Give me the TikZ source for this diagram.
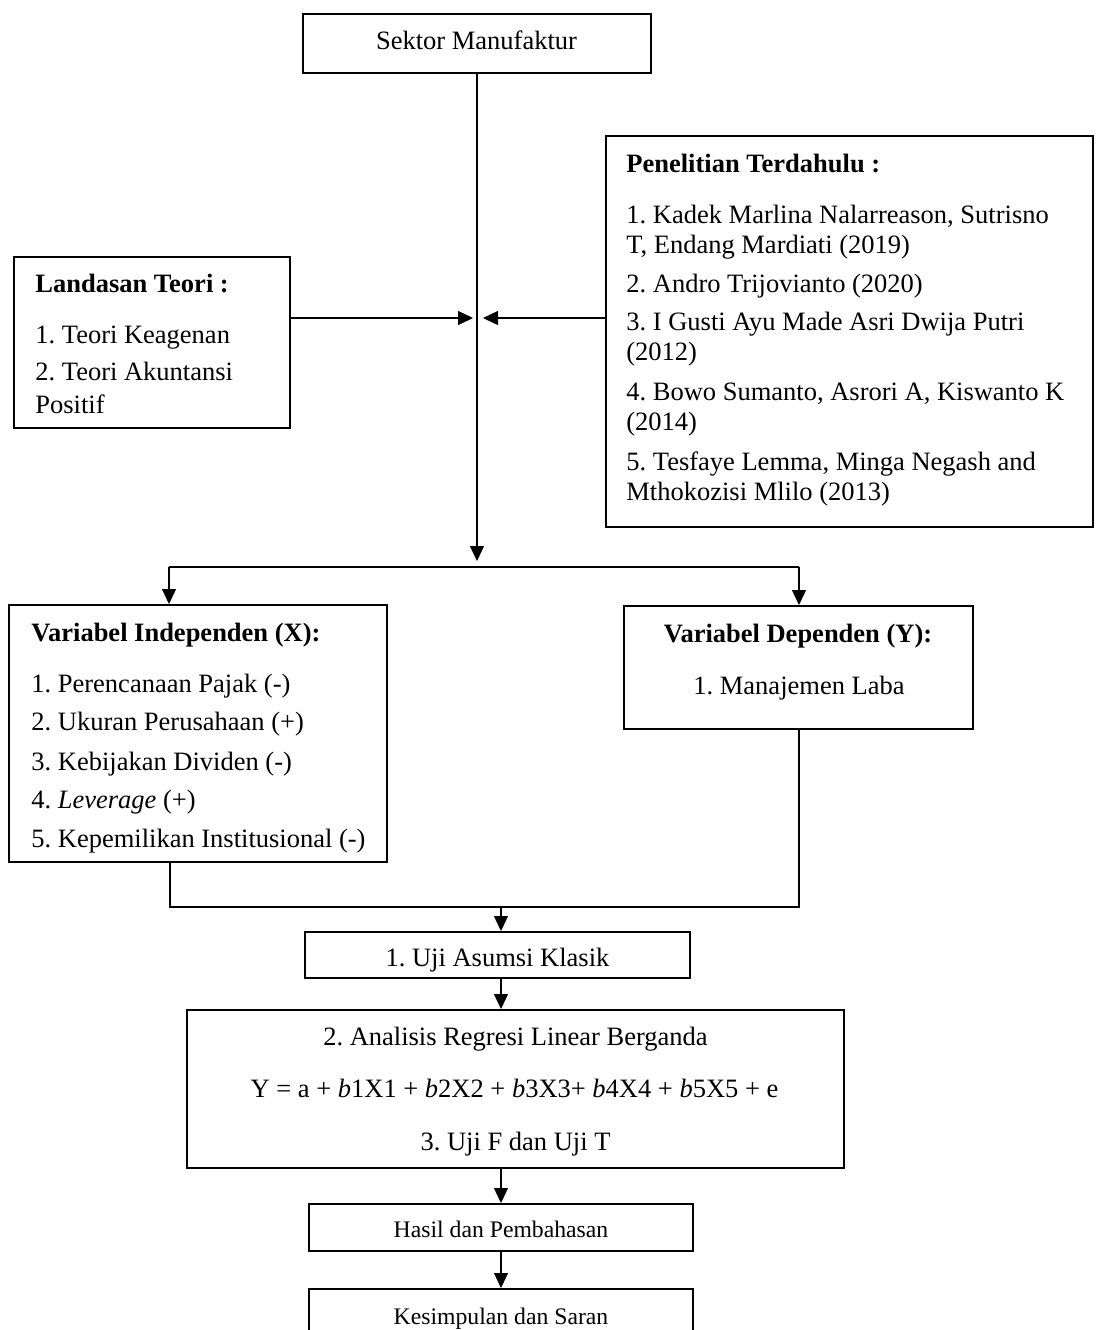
\documentclass[tikz,border=0pt]{standalone}
\usepackage{fontspec}
\setmainfont{Liberation Serif}
\usetikzlibrary{arrows.meta,fit}
\begin{document}
\frenchspacing
\begin{tikzpicture}[x=0.5pt,y=-0.5pt,
  box/.style={draw,line width=1pt,fill=white,inner sep=0pt},
  txt/.style={inner sep=0pt,anchor=base west,font=\fontsize{13.25}{15}\selectfont},
  ctxt/.style={inner sep=0pt,anchor=base,font=\fontsize{13.25}{15}\selectfont},
  stxt/.style={inner sep=0pt,anchor=base,font=\fontsize{11.85}{14}\selectfont},
  conn/.style={line width=0.65pt},
  arr/.style={conn,-{Triangle[length=7.5pt,width=7pt]}}]
\useasboundingbox (0,0) rectangle (1097,1330);
\clip (0,0) rectangle (1097,1330);

% boxes
\node[box,fit={(303,14) (651,73)}] (sek) {};
\node[box,fit={(14,257) (290,428)}] (land) {};
\node[box,fit={(606,136) (1093,527)}] (pen) {};
\node[box,fit={(9,605) (387,862)}] (vi) {};
\node[box,fit={(624,606) (973,729)}] (vd) {};
\node[box,fit={(305,932) (690,978)}] (uji) {};
\node[box,fit={(187,1010) (844,1168)}] (ana) {};
\node[box,fit={(309,1204) (693,1251)}] (has) {};
\node[box,fit={(309,1289) (693,1350)}] (kes) {};

% texts
\node[ctxt] (tsek) at (476.5,49) {Sektor Manufaktur};

\node[txt] (tl0) at (35,292) {\textbf{Landasan Teori :}};
\node[txt] (tl1) at (35,343) {1. Teori Keagenan};
\node[txt] (tl2) at (35,380) {2. Teori Akuntansi};
\node[txt] (tl3) at (35,413) {Positif};

\node[txt] (tp0) at (626,172) {\textbf{Penelitian Terdahulu :}};
\node[txt] (tp1) at (626,223) {1. Kadek Marlina Nalarreason, Sutrisno};
\node[txt] (tp2) at (626,253) {T, Endang Mardiati (2019)};
\node[txt] (tp3) at (626,292) {2. Andro Trijovianto (2020)};
\node[txt] (tp4) at (626,330) {3. I Gusti Ayu Made Asri Dwija Putri};
\node[txt] (tp5) at (626,360) {(2012)};
\node[txt] (tp6) at (626,400) {4. Bowo Sumanto, Asrori A, Kiswanto K};
\node[txt] (tp7) at (626,430) {(2014)};
\node[txt] (tp8) at (626,470) {5. Tesfaye Lemma, Minga Negash and};
\node[txt] (tp9) at (626,500) {Mthokozisi Mlilo (2013)};

\node[txt] (tv0) at (31,641) {\textbf{Variabel Independen (X):}};
\node[txt] (tv1) at (31,692) {1. Perencanaan Pajak (-)};
\node[txt] (tv2) at (31,730) {2. Ukuran Perusahaan (+)};
\node[txt] (tv3) at (31,770) {3. Kebijakan Dividen (-)};
\node[txt] (tv4) at (31,808) {4. \textit{Leverage} (+)};
\node[txt] (tv5) at (31,847) {5. Kepemilikan Institusional (-)};

\node[ctxt] (td0) at (798,642) {\textbf{Variabel Dependen (Y):}};
\node[ctxt] (td1) at (799,694) {1. Manajemen Laba};

\node[ctxt] (tu) at (497.5,966) {1. Uji Asumsi Klasik};

\node[ctxt] (ta1) at (515.5,1045) {2. Analisis Regresi Linear Berganda};
\node[ctxt] (ta2) at (514.5,1097) {Y = a + \textit{b}1X1 + \textit{b}2X2 + \textit{b}3X3+ \textit{b}4X4 + \textit{b}5X5 + e};
\node[ctxt] (ta3) at (515.5,1150) {3. Uji F dan Uji T};

\node[stxt] (th) at (501,1237) {Hasil dan Pembahasan};
\node[stxt] (tk) at (501,1324) {Kesimpulan dan Saran};

% connectors
\coordinate (j) at (477,318);
\coordinate (split) at (477,567);
\coordinate (sl) at (169,567);
\coordinate (sr) at (799,567);
\coordinate (bl) at (170,907);
\coordinate (br) at (799,907);
\coordinate (mid) at (501,907);
\coordinate (col) at (501,0);

\draw[arr,shorten >=3pt] (sek.south) -- (split);
\draw[arr,shorten >=2pt] (land.east |- j) -- (j);
\draw[arr,shorten >=3pt] (pen.west |- j) -- (j);
\draw[conn] (sl) -- (sr);
\draw[arr] (sl) -- (sl |- vi.north);
\draw[arr] (sr) -- (sr |- vd.north);
\draw[conn] (vi.south -| bl) -- (bl) -- (br) -- (vd.south -| br);
\draw[arr] (mid) -- (mid |- uji.north);
\draw[arr] (col |- uji.south) -- (col |- ana.north);
\draw[arr] (col |- ana.south) -- (has.north);
\draw[arr] (has.south) -- (kes.north);
\end{tikzpicture}
\end{document}
